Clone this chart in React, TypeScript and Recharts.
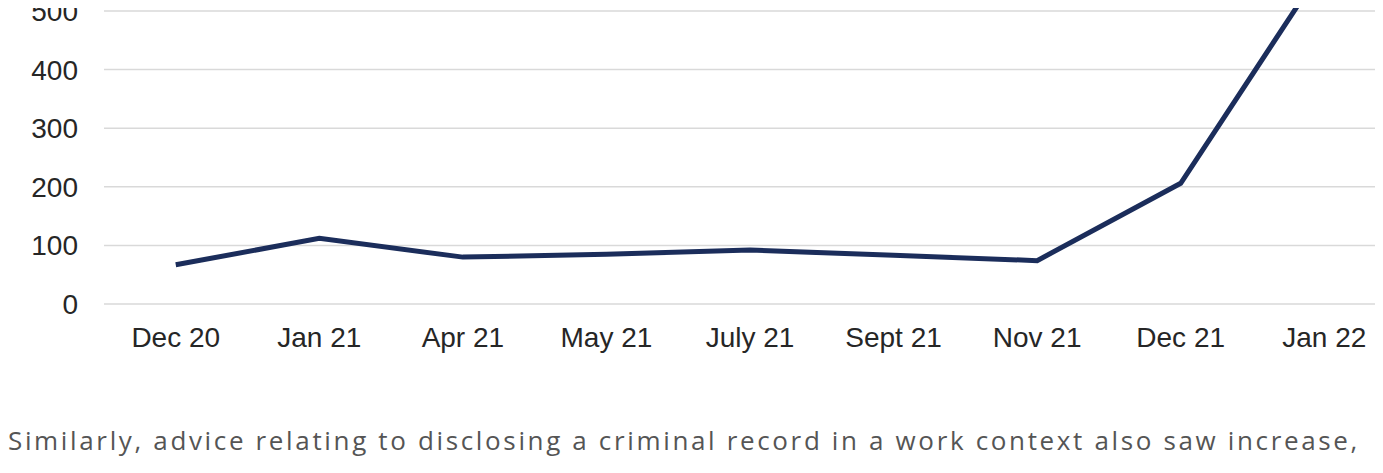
import { LineChart, Line, XAxis, YAxis, CartesianGrid } from "recharts"

const months = ["Dec 20", "Jan 21", "Apr 21", "May 21", "July 21", "Sept 21", "Nov 21", "Dec 21", "Jan 22"]
const enquiries = [67, 112, 80, 85, 92, 83, 74, 206, 578]
const yTicks = [0, 100, 200, 300, 400, 500, 600]

const data = months.map((month, i) => ({ month, value: enquiries[i] }))

const tickStyle = { fill: "#262626", fontSize: 28, fontFamily: "'Liberation Sans', Arial, sans-serif" }

export default function App() {
  return (
    <div
      style={{
        position: "relative",
        width: 1383,
        height: 473,
        margin: -8,
        overflow: "hidden",
        background: "#fff",
      }}
    >
      <div style={{ position: "absolute", left: 0, top: -60 }}>
        <LineChart
          width={1396}
          height={420}
          data={data}
          margin={{ top: 12.4, right: 0, bottom: 6, left: 0 }}
        >
          <CartesianGrid vertical={false} stroke="#d9d9d9" strokeWidth={1.5} />
          <XAxis
            dataKey="month"
            axisLine={false}
            tickLine={false}
            tickMargin={17}
            height={50}
            interval={0}
            padding={{ left: 71.75, right: 71.75 }}
            tick={tickStyle}
          />
          <YAxis
            domain={[0, 600]}
            ticks={yTicks}
            axisLine={false}
            tickLine={false}
            tickMargin={20}
            width={104}
            tick={tickStyle}
          />
          <Line
            type="linear"
            dataKey="value"
            stroke="#1b2d5b"
            strokeWidth={5}
            strokeLinejoin="miter"
            dot={false}
            activeDot={false}
            isAnimationActive={false}
          />
        </LineChart>
      </div>
      <div
        style={{
          position: "absolute",
          left: 8,
          top: 422,
          fontFamily: "'Open Sans', Lato, sans-serif",
          fontSize: 26,
          letterSpacing: 2.65,
          color: "#555555",
          whiteSpace: "nowrap",
        }}
      >
        Similarly, advice relating to disclosing a criminal record in a work context also saw increase,
      </div>
    </div>
  )
}
